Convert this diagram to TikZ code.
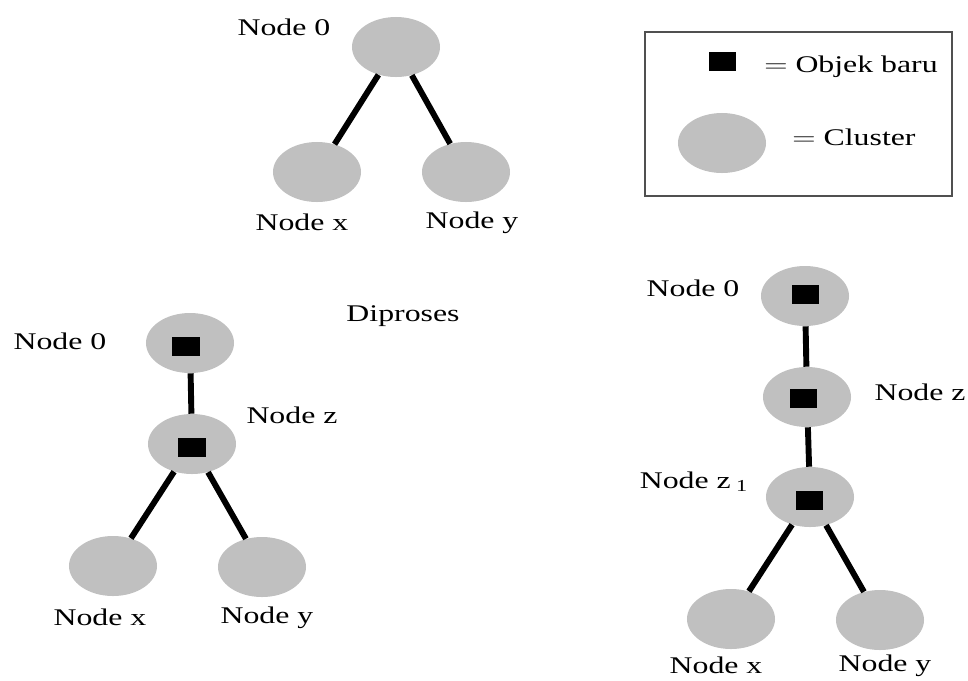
\documentclass[tikz,border=0pt]{standalone}
\usepackage{fontspec}
\setmainfont{Liberation Serif}
\usepackage{xcolor}
\usetikzlibrary{shapes.geometric,positioning}

\definecolor{clustergray}{RGB}{192,192,192}
\definecolor{framegray}{RGB}{80,80,80}

\begin{document}
\begin{tikzpicture}[x=0.025cm, y=-0.025cm,
    cluster/.style={ellipse, fill=clustergray, minimum width=2.2cm, minimum height=1.5cm, inner sep=0pt},
    objek/.style={rectangle, fill=black, minimum width=0.675cm, minimum height=0.475cm, inner sep=0pt},
    lbl/.style={font=\fontsize{17}{20}\selectfont, inner sep=0pt, anchor=base, xscale=1.33, transform shape},
    link/.style={line width=4.2pt}]
    \useasboundingbox (0,0) rectangle (968,680);

    % Tree before the new object
    \node[cluster] (a0) at (396,47) {};
    \node[cluster] (ax) at (317,172) {};
    \node[cluster] (ay) at (466,172) {};
    \draw[link] (a0) -- (ax);
    \draw[link] (a0) -- (ay);
    \node[lbl] (a0lab) at (284,35) {Node 0};
    \node[lbl] (axlab) at (302,230) {Node x};
    \node[lbl] (aylab) at (472,228) {Node y};

    % Legend
    \node[draw=framegray, line width=1pt, minimum width=7.675cm, minimum height=4.1cm] (legend) at (798.5,114) {};
    \node[objek] (legobj) at (722,61) {};
    \node[cluster] (legcl) at (722,143) {};
    \node[lbl] (legobjlab) at (851,72) {$=$ Objek baru};
    \node[lbl] (legcllab) at (854,145) {$=$ Cluster};

    % Object being processed
    \node[lbl] (proses) at (403,321) {Diproses};
    \node[cluster] (b0) at (190,343) {};
    \node[cluster] (bz) at (192,444) {};
    \node[cluster] (bx) at (113,566) {};
    \node[cluster] (by) at (262,567) {};
    \node[objek] (b0obj) at (186,346) {};
    \node[objek] (bzobj) at (192,447) {};
    \draw[link] (b0) -- (bz);
    \draw[link] (bz) -- (bx);
    \draw[link] (bz) -- (by);
    \node[lbl] (b0lab) at (60,349) {Node 0};
    \node[lbl] (bzlab) at (292,423) {Node z};
    \node[lbl] (bxlab) at (100,625) {Node x};
    \node[lbl] (bylab) at (267,623) {Node y};

    % Tree after the split
    \node[cluster] (c0) at (805,296) {};
    \node[cluster] (cz) at (807,397) {};
    \node[cluster] (cz1) at (810,497) {};
    \node[cluster] (cx) at (731,619) {};
    \node[cluster] (cy) at (880,620) {};
    \node[objek] (c0obj) at (805,294) {};
    \node[objek] (czobj) at (803,398) {};
    \node[objek] (cz1obj) at (809,500) {};
    \draw[link] (c0) -- (cz);
    \draw[link] (cz) -- (cz1);
    \draw[link] (cz1) -- (cx);
    \draw[link] (cz1) -- (cy);
    \node[lbl] (c0lab) at (693,296) {Node 0};
    \node[lbl] (czlab) at (920,400) {Node z};
    \node[lbl] (cz1lab) at (694,488) {Node z\,\textsubscript{1}};
    \node[lbl] (cxlab) at (716,673) {Node x};
    \node[lbl] (cylab) at (885,671) {Node y};
\end{tikzpicture}
\end{document}
